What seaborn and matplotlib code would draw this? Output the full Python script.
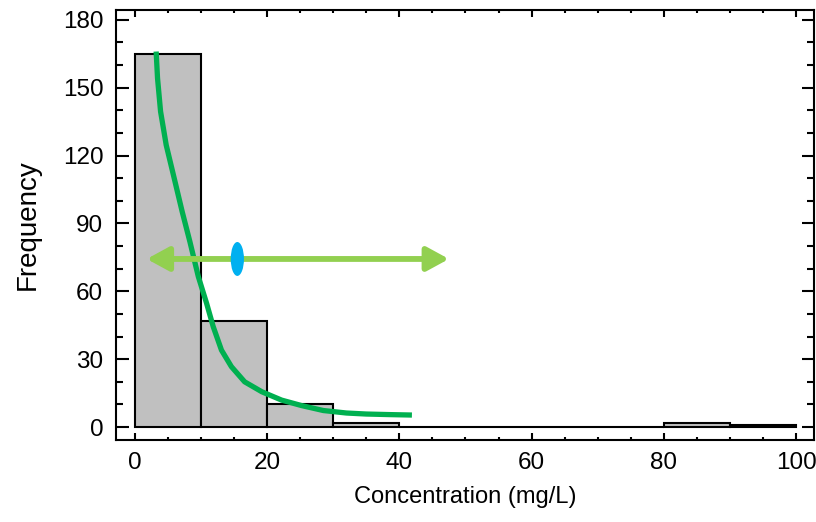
import matplotlib
matplotlib.use("Agg")
import matplotlib.pyplot as plt
import seaborn as sns
import numpy as np
import pandas as pd
from matplotlib.patches import Ellipse, FancyArrowPatch
from matplotlib.ticker import MultipleLocator

# Histogram data (bin edges and counts)
bin_edges = [0, 10, 20, 30, 40, 50, 60, 70, 80, 90, 100]
bin_counts = [165, 47, 10, 2, 0, 0, 0, 0, 2, 1]

# Fitted curve
curve_x = [3.22, 3.43, 3.89, 4.74, 5.95, 7.16, 8.32, 9.6, 10.85, 11.85, 13.1,
           14.6, 16.6, 19.2, 22.2, 25.2, 28.5, 32.0, 35.0, 38.5, 41.9]
curve_y = [166, 154.2, 139.5, 124.7, 110, 95.2, 82, 66.5, 54.7, 44.4, 34,
           26.7, 20, 15.6, 11.9, 9.5, 7.3, 6.2, 5.75, 5.5, 5.3]

# Mean marker and range arrow
mean_conc = 15.5
range_lo = 1.8
range_hi = 47.5
range_level = 74.3

sns.set_theme(style="white")
plt.rcParams['font.family'] = ['Liberation Sans', 'DejaVu Sans']
plt.rcParams['text.color'] = 'black'
plt.rcParams['axes.labelcolor'] = 'black'
plt.rcParams['xtick.color'] = 'black'
plt.rcParams['ytick.color'] = 'black'

fig = plt.figure(figsize=(8.16, 5.22), dpi=100)
ax = fig.add_axes([0.142, 0.157, 0.8555, 0.824])

centers = [(a + b) / 2 for a, b in zip(bin_edges[:-1], bin_edges[1:])]
df = pd.DataFrame({"x": centers, "w": bin_counts})
sns.histplot(data=df, x="x", weights="w", bins=bin_edges, ax=ax,
             color="#c0c0c0", edgecolor="black", linewidth=1.5, alpha=1.0)

sns.lineplot(x=curve_x, y=curve_y, ax=ax, color="#00b050", linewidth=3.8,
             sort=False)
ax.lines[-1].set_solid_capstyle("butt")
ax.lines[-1].set_solid_joinstyle("round")

arr = FancyArrowPatch((range_lo, range_level), (range_hi, range_level),
                      arrowstyle="<|-|>,head_length=1.1,head_width=0.6",
                      mutation_scale=12, color="#92d050", linewidth=4.2,
                      shrinkA=0, shrinkB=0, zorder=5)
ax.add_patch(arr)
ax.add_patch(Ellipse((mean_conc, range_level), width=2.0, height=15,
                     facecolor="#00b0f0", edgecolor="none", zorder=6))

ax.set_xlim(-2.87, 102.7)
ax.set_ylim(-5.75, 184.4)
ax.xaxis.set_major_locator(MultipleLocator(20))
ax.xaxis.set_minor_locator(MultipleLocator(5))
ax.yaxis.set_major_locator(MultipleLocator(30))
ax.yaxis.set_minor_locator(MultipleLocator(10))
ax.tick_params(which="both", direction="in", top=True, right=True,
               bottom=True, left=True, color="black", width=1.5)
ax.tick_params(axis="x", which="major", length=5, labelsize=17.5, pad=8.5)
ax.tick_params(axis="x", which="minor", length=2.5)
ax.tick_params(axis="y", which="major", length=9, labelsize=17.5, pad=9)
ax.tick_params(axis="y", which="minor", length=5)
for s in ax.spines.values():
    s.set_color("black")
    s.set_linewidth(1.5)

ax.set_xlabel("Concentration (mg/L)", fontsize=17, labelpad=9)
ax.set_ylabel("Frequency", fontsize=20, labelpad=16)
ax.grid(False)

fig.savefig("out.png", dpi=100)
